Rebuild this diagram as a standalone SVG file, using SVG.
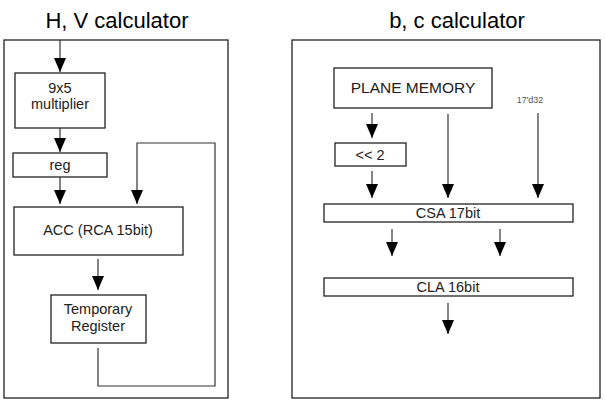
<svg xmlns="http://www.w3.org/2000/svg" width="605" height="408" viewBox="0 0 605 408">
<defs>
<marker id="ah" viewBox="0 0 14 12" refX="14" refY="6" markerWidth="14" markerHeight="12" markerUnits="userSpaceOnUse" orient="auto">
<path d="M0,0 L14,6 L0,12 Z" fill="#000"/>
</marker>
<style>
.frame{fill:#fff;stroke:#222;stroke-width:1.3}
.box{fill:#fff;stroke:#222;stroke-width:1.3}
.ar{fill:none;stroke:#333;stroke-width:1.2;marker-end:url(#ah)}
.title{font-family:"Liberation Sans",Arial,sans-serif;font-size:22px;fill:#000;text-anchor:middle}
.lbl{font-family:"Liberation Sans",Arial,sans-serif;font-size:14.5px;fill:#222;text-anchor:middle}
.sm{font-family:"Liberation Sans",Arial,sans-serif;font-size:9px;fill:#555;text-anchor:middle}
</style>
</defs>
<rect width="605" height="408" fill="#fff"/>
<g id="panel-hv">
<text class="title" x="117" y="28">H, V calculator</text>
<rect class="frame" x="4" y="40" width="224" height="358"/>
</g>
<g id="panel-bc">
<text class="title" x="457" y="28">b, c calculator</text>
<rect class="frame" x="292" y="40" width="308" height="358"/>
</g>
<g id="mult">
<rect class="box" x="15" y="73" width="90" height="55"/>
<text class="lbl" x="60" y="93">9x5</text>
<text class="lbl" x="60" y="109">multiplier</text>
</g>
<g id="reg">
<rect class="box" x="13" y="153" width="94" height="24"/>
<text class="lbl" x="60" y="170">reg</text>
</g>
<g id="acc">
<rect class="box" x="14" y="207" width="169" height="48"/>
<text class="lbl" x="98" y="235">ACC (RCA 15bit)</text>
</g>
<g id="tempreg">
<rect class="box" x="51" y="295" width="95" height="48"/>
<text class="lbl" x="98" y="314">Temporary</text>
<text class="lbl" x="98" y="331">Register</text>
</g>
<g id="plane">
<rect class="box" x="334" y="68" width="158" height="40"/>
<text class="lbl" x="413" y="93" style="font-size:15.5px">PLANE MEMORY</text>
</g>
<g id="const">
<text class="sm" x="530" y="103">17'd32</text>
</g>
<g id="shift">
<rect class="box" x="335" y="143" width="71" height="23"/>
<text class="lbl" x="370" y="160">&lt;&lt; 2</text>
</g>
<g id="csa">
<rect class="box" x="324" y="204" width="249" height="18"/>
<text class="lbl" x="448" y="218">CSA 17bit</text>
</g>
<g id="cla">
<rect class="box" x="324" y="278" width="249" height="18"/>
<text class="lbl" x="448" y="292">CLA 16bit</text>
</g>
<g id="connectors">
<line class="ar" x1="60" y1="40" x2="60" y2="72"/>
<line class="ar" x1="60" y1="128" x2="60" y2="152"/>
<line class="ar" x1="60" y1="177" x2="60" y2="204"/>
<line class="ar" x1="98" y1="259" x2="98" y2="290"/>
<path class="ar" d="M98,348 V386 H215 V143 H137 V204"/>
<line class="ar" x1="372" y1="113" x2="372" y2="138"/>
<line class="ar" x1="372" y1="171" x2="372" y2="198"/>
<line class="ar" x1="448" y1="114" x2="448" y2="198"/>
<line class="ar" x1="538" y1="113" x2="538" y2="198"/>
<line class="ar" x1="392" y1="229" x2="392" y2="256"/>
<line class="ar" x1="500" y1="229" x2="500" y2="256"/>
<line class="ar" x1="448" y1="303" x2="448" y2="334"/>
</g>
</svg>
